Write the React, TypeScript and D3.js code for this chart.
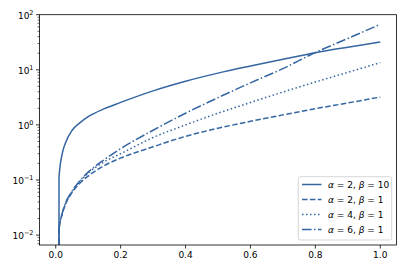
import React from "react";
import * as d3 from "d3";

const xs = [0.01, 0.0101, 0.02, 0.03, 0.05, 0.075, 0.1, 0.15, 0.2, 0.3, 0.4, 0.5, 0.6, 0.7, 0.8, 0.9, 1.0];
const solidA2B10 = [1e-6, 0.11, 0.30, 0.47, 0.79, 1.1, 1.41, 1.97, 2.56, 4.15, 6.2, 8.7, 11.7, 15.5, 20.4, 25.7, 32];
const dashedA2B1 = [1e-6, 0.0125, 0.024, 0.036, 0.059, 0.088, 0.118, 0.183, 0.25, 0.40, 0.62, 0.87, 1.16, 1.52, 1.97, 2.5, 3.2];
const dottedA4B1 = [1e-6, 0.0127, 0.0245, 0.037, 0.061, 0.094, 0.133, 0.215, 0.30, 0.59, 1.0, 1.63, 2.55, 3.95, 6.0, 9.0, 13.5];
const dashdotA6B1 = [1e-6, 0.0128, 0.025, 0.038, 0.062, 0.098, 0.139, 0.235, 0.37, 0.8, 1.63, 3.12, 5.8, 10.5, 20.6, 37, 67];

const seriesNames = [
  { a: "2", b: "10" },
  { a: "2", b: "1" },
  { a: "4", b: "1" },
  { a: "6", b: "1" },
];
const seriesValues = [solidA2B10, dashedA2B1, dottedA4B1, dashdotA6B1];
const dashes = ["", "5.5,2.4", "1.5,2.5", "9.6,2.4,1.5,2.4"];

const xTicks = [0, 0.2, 0.4, 0.6, 0.8, 1.0];
const xTickLabels = ["0.0", "0.2", "0.4", "0.6", "0.8", "1.0"];
const yTickExps = [-2, -1, 0, 1, 2];
const yTickLabels = ["\u22122", "\u22121", "0", "1", "2"];

const COLOR = "#3566a2";
const L = 39.5, R = 396.5, T = 14.7, B = 245;

export default function App() {
  const x = d3.scaleLinear().domain([-0.05, 1.05]).range([L, R]);
  const y = d3.scaleLog().domain([Math.pow(10, 2 - (B - T) / 55.1), 100]).range([B, T]);
  const line = d3
    .line<number>()
    .x((_, i) => x(xs[i]))
    .y((d) => y(d))
    .curve(d3.curveMonotoneX);

  const minor: number[] = [];
  for (let e = -3; e < 2; e++) for (let k = 2; k <= 9; k++) {
    const v = k * Math.pow(10, e);
    if (v >= y.domain()[0] && v <= 100) minor.push(v);
  }
  const font = "DejaVu Sans, sans-serif";
  const legX = 298.3, legY = 176.7, legW = 93.4, legH = 63.3;
  const rowY = [184.5, 199.5, 214.5, 229.5];

  return (
    <svg width={407} height={271} style={{ position: "absolute", left: 0, top: 0, background: "#fff" }} fontFamily={font}>
      <defs>
        <clipPath id="plot">
          <rect x={L} y={T} width={R - L} height={B - T} />
        </clipPath>
      </defs>
      <g clipPath="url(#plot)">
        {seriesValues.map((vals, i) => (
          <path key={i} d={line(vals) || ""} fill="none" stroke={COLOR} strokeWidth={1.5} strokeDasharray={dashes[i]} />
        ))}
      </g>
      <rect x={L} y={T} width={R - L} height={B - T} fill="none" stroke="#000" strokeWidth={0.8} />
      {xTicks.map((t, i) => (
        <g key={i}>
          <line x1={x(t)} x2={x(t)} y1={B} y2={B + 3.5} stroke="#000" strokeWidth={0.8} />
          <text x={x(t)} y={B + 6} dy="0.76em" fontSize={9} textAnchor="middle" fill="#000">{xTickLabels[i]}</text>
        </g>
      ))}
      {minor.map((v, i) => (
        <line key={i} x1={L - 2} x2={L} y1={y(v)} y2={y(v)} stroke="#000" strokeWidth={0.6} />
      ))}
      {yTickExps.map((e, i) => (
        <g key={i}>
          <line x1={L - 3.5} x2={L} y1={y(Math.pow(10, e))} y2={y(Math.pow(10, e))} stroke="#000" strokeWidth={0.8} />
          <text x={L - 6} y={y(Math.pow(10, e)) + 4} fontSize={9} textAnchor="end" fill="#000">
            10<tspan fontSize={6.5} dy={-4}>{yTickLabels[i]}</tspan>
          </text>
        </g>
      ))}
      <rect x={legX} y={legY} width={legW} height={legH} rx={2} fill="#fff" fillOpacity={0.8} stroke="#ccc" strokeWidth={0.8} />
      {seriesNames.map((s, i) => (
        <g key={i}>
          <line x1={302} x2={321.5} y1={rowY[i]} y2={rowY[i]} stroke={COLOR} strokeWidth={1.5} strokeDasharray={dashes[i]} />
          <text x={328} y={rowY[i] + 3.2} fontSize={9} fill="#000">
            <tspan fontStyle="italic">α</tspan>
            <tspan> = {s.a}, </tspan>
            <tspan fontStyle="italic">β</tspan>
            <tspan> = {s.b}</tspan>
          </text>
        </g>
      ))}
    </svg>
  );
}
